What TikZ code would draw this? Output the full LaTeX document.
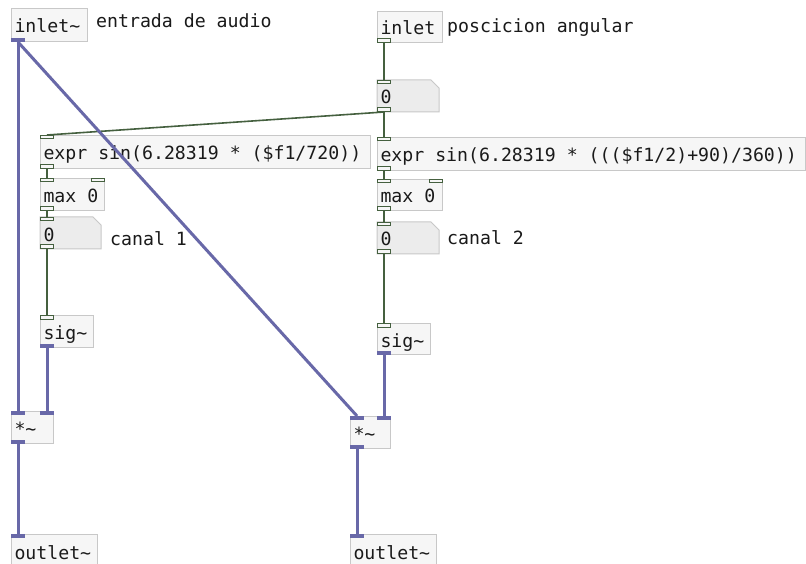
\documentclass[tikz,border=0pt]{standalone}
\usepackage{fontspec}
\newfontfamily\pdmono{DejaVu Sans Mono}
\usetikzlibrary{backgrounds}
\definecolor{boxborder}{HTML}{C8C8C8}
\definecolor{boxfill}{HTML}{F6F6F6}
\definecolor{numfill}{HTML}{ECECEC}
\definecolor{ctlcol}{HTML}{45603F}
\definecolor{sigcol}{HTML}{6868A8}
\definecolor{txt}{HTML}{1A1A1A}
\tikzset{
  obj/.style={draw=boxborder, fill=boxfill, line width=1pt, anchor=north west, inner xsep=3pt, inner ysep=0pt,
    align=left, text=txt, text height=16pt, text depth=0pt, font={\pdmono\fontsize{18.2}{20}\selectfont}},
  numobj/.style={obj, draw=none, fill=none},
  cmt/.style={anchor=base west, inner sep=0pt, text=txt, font={\pdmono\fontsize{18.2}{20}\selectfont}},
  ctl/.style={draw=ctlcol, line width=1.6pt},
  sig/.style={draw=sigcol, line width=3pt},
  ctlport/.style={draw=ctlcol, fill=boxfill, line width=1pt},
  sigport/.style={fill=sigcol}
}
\newcommand\pdbox[6]{%
  \pgfmathsetmacro\pdtw{#4-6}%
  \node[obj, minimum width=#4pt, minimum height=#5pt, text width=\pdtw pt] (#1) at (#2,#3) {\spaceskip=0pt\xspaceskip=0pt\relax\mbox{#6}};}
\newcommand\pdnum[6]{%
  \pgfmathsetmacro\pdtw{#4-6}%
  \node[numobj, minimum width=#4pt, minimum height=#5pt, text width=\pdtw pt] (#1) at (#2,#3) {\mbox{#6}};
  \begin{scope}[on background layer]
    \filldraw[draw=boxborder, fill=numfill, line width=1pt] (#1.north west) -- ([xshift=-8pt]#1.north east)
      -- ([yshift=-8pt]#1.north east) -- (#1.south east) -- (#1.south west) -- cycle;
  \end{scope}}
% ports
\newcommand\pcin[1]{\filldraw[ctlport] ([xshift=0.5pt,yshift=-0.5pt]#1.north west) rectangle ++(13,3.5);}
\newcommand\pcinr[1]{\filldraw[ctlport] ([xshift=-13.5pt,yshift=-0.5pt]#1.north east) rectangle ++(13,3.5);}
\newcommand\pcout[1]{\filldraw[ctlport] ([xshift=0.5pt,yshift=0.5pt]#1.south west) rectangle ++(13,-3.5);}
\newcommand\psin[1]{\fill[sigport] (#1.north west) rectangle ++(14,4);}
\newcommand\psinr[1]{\fill[sigport] ([xshift=-14pt]#1.north east) rectangle ++(14,4);}
\newcommand\psout[1]{\fill[sigport] (#1.south west) rectangle ++(14,-4);}
\begin{document}
\begin{tikzpicture}[x=1pt, y=-1pt]
\begin{scope}[on background layer]
\fill[white] (0,0) rectangle (806,564);
\end{scope}
\useasboundingbox (0,0) rectangle (806,564);

% objects
\pdbox{inA}{11}{8}{76}{33}{inlet\textasciitilde}
\pdbox{inB}{377}{11}{65}{31}{inlet}
\pdnum{numA}{377}{80}{61}{31}{0}
\pdbox{exprL}{40}{135}{330}{33}{expr sin(6.28319 * (\$f1/720))}
\pdbox{exprR}{377}{137}{428}{33}{expr sin(6.28319 * (((\$f1/2)+90)/360))}
\pdbox{maxL}{40}{178}{64}{32}{max 0}
\pdbox{maxR}{377}{179}{65}{31}{max 0}
\pdnum{numL}{40}{217}{60}{31}{0}
\pdnum{numR}{377}{222}{61}{31}{0}
\pdbox{sigL}{40}{315}{53}{32}{sig\textasciitilde}
\pdbox{sigR}{377}{323}{53}{31}{sig\textasciitilde}
\pdbox{mulL}{11}{411}{42}{32}{*\textasciitilde}
\pdbox{mulR}{350}{416}{40}{32}{*\textasciitilde}
\pdbox{outL}{11}{534}{86}{34}{outlet\textasciitilde}
\pdbox{outR}{350}{534}{86}{34}{outlet\textasciitilde}

% comments
\node[cmt] (cA) at (96,28) {entrada de audio};
\node[cmt] (cB) at (447,33) {poscicion angular};
\node[cmt] (cC) at (110,246) {canal 1};
\node[cmt] (cD) at (447,244) {canal 2};

% control connections
\draw[ctl] ([xshift=7pt]inB.south west) -- ([xshift=7pt]numA.north west);
\draw[ctl] ([xshift=7pt]numA.south west) -- ([xshift=7pt]exprL.north west);
\draw[ctl] ([xshift=7pt]numA.south west) -- ([xshift=7pt]exprR.north west);
\draw[ctl] ([xshift=7pt]exprL.south west) -- ([xshift=7pt]maxL.north west);
\draw[ctl] ([xshift=7pt]exprR.south west) -- ([xshift=7pt]maxR.north west);
\draw[ctl] ([xshift=7pt]maxL.south west) -- ([xshift=7pt]numL.north west);
\draw[ctl] ([xshift=7pt]maxR.south west) -- ([xshift=7pt]numR.north west);
\draw[ctl] ([xshift=7pt]numL.south west) -- ([xshift=7pt]sigL.north west);
\draw[ctl] ([xshift=7pt]numR.south west) -- ([xshift=7pt]sigR.north west);

% signal connections
\draw[sig] ([xshift=7pt]inA.south west) -- ([xshift=7pt]mulL.north west);
\draw[sig] ([xshift=7pt]inA.south west) -- ([xshift=7pt]mulR.north west);
\draw[sig] ([xshift=7pt]sigL.south west) -- ([xshift=-7pt]mulL.north east);
\draw[sig] ([xshift=7pt]sigR.south west) -- ([xshift=-7pt]mulR.north east);
\draw[sig] ([xshift=7pt]mulL.south west) -- ([xshift=7pt]outL.north west);
\draw[sig] ([xshift=7pt]mulR.south west) -- ([xshift=7pt]outR.north west);

% ports
\psout{inA}
\pcout{inB}
\pcin{numA} \pcout{numA}
\pcin{exprL} \pcout{exprL}
\pcin{exprR} \pcout{exprR}
\pcin{maxL} \pcinr{maxL} \pcout{maxL}
\pcin{maxR} \pcinr{maxR} \pcout{maxR}
\pcin{numL} \pcout{numL}
\pcin{numR} \pcout{numR}
\pcin{sigL} \psout{sigL}
\pcin{sigR} \psout{sigR}
\psin{mulL} \psinr{mulL} \psout{mulL}
\psin{mulR} \psinr{mulR} \psout{mulR}
\psin{outL}
\psin{outR}
\end{tikzpicture}
\end{document}
